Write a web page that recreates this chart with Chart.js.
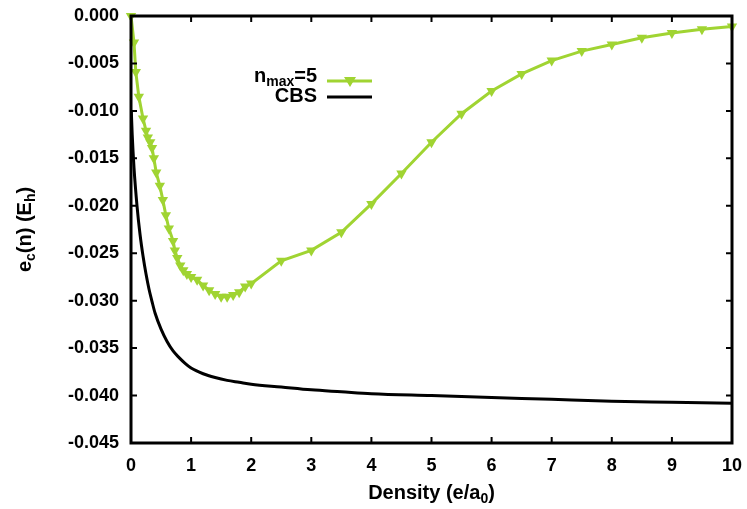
<!DOCTYPE html>
<html>
<head>
<meta charset="utf-8">
<script src="https://cdn.jsdelivr.net/npm/chart.js@4.4.1/dist/chart.umd.min.js"></script>
<style>
html, body { margin: 0; padding: 0; background: #fff; }
</style>
</head>
<body>
<canvas id="ec-chart" width="747" height="509"></canvas>
<script>
// n_max = 5 series (green, triangles)
var nmaxDensity = [0, 0.05, 0.08, 0.13, 0.2, 0.25, 0.28, 0.32, 0.35, 0.38, 0.42, 0.48, 0.53, 0.58, 0.63, 0.7, 0.73, 0.77, 0.82, 0.87, 0.93, 1.0, 1.1, 1.2, 1.3, 1.4, 1.5, 1.6, 1.7, 1.8, 1.9, 2.0, 2.5, 3.0, 3.5, 4.0, 4.5, 5.0, 5.5, 6.0, 6.5, 7.0, 7.5, 8.0, 8.5, 9.0, 9.5, 10.0];
var nmaxEnergy = [0, -0.0028, -0.0059, -0.0085, -0.0108, -0.0121, -0.0128, -0.0133, -0.0139, -0.0150, -0.0165, -0.0179, -0.0194, -0.0210, -0.0224, -0.0237, -0.0247, -0.0255, -0.0263, -0.0268, -0.0272, -0.0275, -0.0278, -0.0284, -0.0289, -0.0293, -0.0296, -0.0296, -0.0294, -0.0291, -0.0285, -0.0282, -0.0258, -0.0247, -0.0228, -0.0198, -0.0166, -0.0133, -0.0103, -0.0079, -0.0061, -0.0047, -0.0037, -0.0030, -0.0023, -0.0018, -0.0014, -0.0011];

// complete basis set limit (black line)
var cbsDensity = [0.005, 0.02, 0.05, 0.1, 0.15, 0.2, 0.25, 0.3, 0.35, 0.4, 0.5, 0.6, 0.7, 0.8, 0.9, 1.0, 1.2, 1.4, 1.6, 1.8, 2.0, 2.5, 3.0, 3.5, 4.0, 5.0, 6.0, 7.0, 8.0, 9.0, 10.0];
var cbsEnergy = [-0.0100, -0.0125, -0.0160, -0.0200, -0.0230, -0.0253, -0.0272, -0.0288, -0.0301, -0.0313, -0.0330, -0.0343, -0.0353, -0.0360, -0.0366, -0.0371, -0.0377, -0.0381, -0.0384, -0.0386, -0.0388, -0.0391, -0.0394, -0.0396, -0.0398, -0.0400, -0.0402, -0.0404, -0.0406, -0.0407, -0.0408];

var GREEN = 'rgb(160, 212, 50)';
var FONT = '"Liberation Sans", Arial, sans-serif';

function toPoints(xs, ys) {
    return xs.map(function (x, i) { return {x: x, y: ys[i]}; });
}

// draws text with subscript parts, e.g. [['e'], ['c', 1], ['(n)']]
function richText(ctx, parts, x, y, align) {
    var big = 'bold 20px ' + FONT, small = 'bold 14px ' + FONT;
    var w = 0;
    parts.forEach(function (p) {
        ctx.font = p[1] ? small : big;
        w += ctx.measureText(p[0]).width;
    });
    var cx = align === 'right' ? x - w : (align === 'center' ? x - w / 2 : x);
    ctx.textBaseline = 'middle';
    ctx.textAlign = 'left';
    parts.forEach(function (p) {
        ctx.font = p[1] ? small : big;
        ctx.fillText(p[0], cx, p[1] ? y + 6 : y);
        cx += ctx.measureText(p[0]).width;
    });
}

var framePlugin = {
    id: 'frame',
    afterDraw: function (chart) {
        var ctx = chart.ctx, a = chart.chartArea;
        var xs = chart.scales.x, ys = chart.scales.y;
        ctx.save();
        ctx.strokeStyle = '#000';
        ctx.fillStyle = '#000';

        // inward ticks on all four sides
        ctx.lineWidth = 2;
        ctx.beginPath();
        xs.ticks.forEach(function (t) {
            var px = xs.getPixelForValue(t.value);
            ctx.moveTo(px, a.bottom); ctx.lineTo(px, a.bottom - 6);
            ctx.moveTo(px, a.top); ctx.lineTo(px, a.top + 6);
        });
        ys.ticks.forEach(function (t) {
            var py = ys.getPixelForValue(t.value);
            ctx.moveTo(a.left, py); ctx.lineTo(a.left + 6, py);
            ctx.moveTo(a.right, py); ctx.lineTo(a.right - 6, py);
        });
        ctx.stroke();

        ctx.lineWidth = 3;
        ctx.strokeRect(a.left, a.top, a.right - a.left, a.bottom - a.top);

        // axis titles
        richText(ctx, [['Density (e/a'], ['0', 1], [')']], (a.left + a.right) / 2, 493, 'center');
        ctx.save();
        ctx.translate(25, (a.top + a.bottom) / 2);
        ctx.rotate(-Math.PI / 2);
        richText(ctx, [['e'], ['c', 1], ['(n) (E'], ['h', 1], [')']], 0, 0, 'center');
        ctx.restore();

        // legend
        richText(ctx, [['n'], ['max', 1], ['=5']], 317, 76, 'right');
        richText(ctx, [['CBS']], 317, 96, 'right');
        ctx.lineWidth = 3;
        ctx.strokeStyle = GREEN;
        ctx.beginPath(); ctx.moveTo(327, 81); ctx.lineTo(372, 81); ctx.stroke();
        ctx.fillStyle = GREEN;
        ctx.beginPath();
        ctx.moveTo(344, 77); ctx.lineTo(356, 77); ctx.lineTo(350, 87); ctx.closePath();
        ctx.fill();
        ctx.strokeStyle = '#000';
        ctx.beginPath(); ctx.moveTo(327, 97); ctx.lineTo(372, 97); ctx.stroke();
        ctx.restore();
    }
};

var tickFont = {family: FONT, size: 18, weight: 'bold'};

var ecChart = new Chart(document.getElementById('ec-chart'), {
    type: 'line',
    data: {
        datasets: [{
            label: 'nmax=5',
            data: toPoints(nmaxDensity, nmaxEnergy),
            borderColor: GREEN,
            backgroundColor: GREEN,
            borderWidth: 3,
            pointStyle: 'triangle',
            rotation: 180,
            pointRadius: 6,
            pointBorderWidth: 0,
            clip: 8
        }, {
            label: 'CBS',
            data: toPoints(cbsDensity, cbsEnergy),
            borderColor: '#000',
            borderWidth: 3,
            pointRadius: 0,
            cubicInterpolationMode: 'monotone'
        }]
    },
    options: {
        responsive: false,
        animation: false,
        layout: {padding: {top: 16, right: 15, left: 0, bottom: 0}},
        plugins: {legend: {display: false}, tooltip: {enabled: false}},
        scales: {
            x: {
                type: 'linear', min: 0, max: 10,
                ticks: {stepSize: 1, font: tickFont, color: '#000', padding: 12, maxRotation: 0},
                grid: {display: false, drawTicks: false},
                border: {display: false},
                afterFit: function (s) {
                    s.height = 66;
                    s.paddingLeft = 0; s.paddingRight = 0;
                }
            },
            y: {
                type: 'linear', min: -0.045, max: 0,
                ticks: {
                    stepSize: 0.005, font: tickFont, color: '#000', padding: 12,
                    callback: function (v) { return v.toFixed(3); }
                },
                grid: {display: false, drawTicks: false},
                border: {display: false},
                afterFit: function (s) {
                    s.width = 131;
                    s.paddingTop = 0; s.paddingBottom = 0;
                }
            }
        }
    },
    plugins: [framePlugin]
});
</script>
</body>
</html>
